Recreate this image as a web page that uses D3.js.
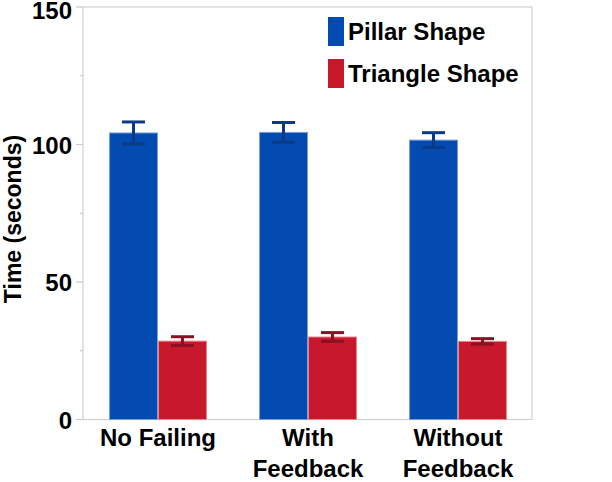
<!DOCTYPE html>
<html>
<head>
<meta charset="utf-8">
<script src="https://cdn.jsdelivr.net/npm/d3@7"></script>
<style>
  html, body { margin: 0; padding: 0; background: #fff; }
  svg { display: block; font-family: "Liberation Sans", Arial, Helvetica, sans-serif; }
</style>
</head>
<body>
<svg id="chart" width="612" height="482"></svg>
<script>
// ---- data ----
const categories = [["No Failing"], ["With", "Feedback"], ["Without", "Feedback"]];
const seriesNames = ["Pillar Shape", "Triangle Shape"];
const pillarValues = [104.2, 104.4, 101.6];
const pillarErrors = [4.0, 3.6, 2.7];
const triangleValues = [28.5, 30.0, 28.4];
const triangleErrors = [1.6, 1.6, 1.0];
const yTicks = [0, 25, 50, 75, 100, 125, 150];
const yLabelTicks = [0, 50, 100, 150];
const yTitle = "Time (seconds)";

const colors = ["#034bb0", "#c8182b"];
const edgeColors = ["#7d9fd8", "#e9858f"];
const errColors = ["#0c3a86", "#8c1022"];

const svg = d3.select("#chart");
const plot = { left: 83, right: 532, top: 7, bottom: 419.5 };

const catIds = categories.map((c, i) => i);
const x = d3.scaleBand().domain(catIds).range([plot.left, plot.right + 1])
  .paddingInner(0.347).paddingOuter(0.1735);
const xs = d3.scaleBand().domain(seriesNames).range([0, x.bandwidth()]);
const y = d3.scaleLinear().domain([0, 150]).range([plot.bottom, plot.top]);

// frame
svg.append("rect")
  .attr("x", plot.left).attr("y", plot.top)
  .attr("width", plot.right - plot.left).attr("height", plot.bottom - plot.top)
  .attr("fill", "none").attr("stroke", "#d0d0d0").attr("stroke-width", 1.2);

// y ticks
const yAxis = svg.append("g");
yAxis.selectAll("line").data(yTicks).join("line")
  .attr("x1", d => yLabelTicks.includes(d) ? plot.left - 7 : plot.left - 3)
  .attr("x2", plot.left)
  .attr("y1", d => y(d)).attr("y2", d => y(d))
  .attr("stroke", "#cccccc").attr("stroke-width", 1.2);
yAxis.selectAll("text").data(yLabelTicks).join("text")
  .attr("x", plot.left - 11)
  .attr("y", d => Math.max(y(d) + 9, 19))
  .attr("text-anchor", "end")
  .attr("font-size", 24).attr("font-weight", "bold").attr("fill", "#000")
  .text(d => d);

// y title
svg.append("text")
  .attr("transform", `translate(21,219) rotate(-90)`)
  .attr("text-anchor", "middle")
  .attr("font-size", 23).attr("font-weight", "bold").attr("fill", "#000")
  .text(yTitle);

// bars
const data = [];
catIds.forEach(i => {
  data.push({ cat: i, s: 0, v: pillarValues[i], e: pillarErrors[i] });
  data.push({ cat: i, s: 1, v: triangleValues[i], e: triangleErrors[i] });
});

const bars = svg.append("g");
bars.selectAll("rect").data(data).join("rect")
  .attr("x", d => x(d.cat) + xs(seriesNames[d.s]) + 0.5)
  .attr("y", d => y(d.v))
  .attr("width", xs.bandwidth() - 1)
  .attr("height", d => y(0) - y(d.v))
  .attr("fill", d => colors[d.s])
  .attr("stroke", d => edgeColors[d.s]).attr("stroke-width", 1);

// error bars
const eb = svg.append("g");
const capW = 23;
data.forEach(d => {
  const cx = x(d.cat) + xs(seriesNames[d.s]) + xs.bandwidth() / 2;
  const g = eb.append("g").attr("stroke", errColors[d.s]).attr("stroke-width", 3);
  g.append("line").attr("x1", cx).attr("x2", cx).attr("y1", y(d.v + d.e)).attr("y2", y(d.v - d.e));
  g.append("line").attr("x1", cx - capW / 2).attr("x2", cx + capW / 2).attr("y1", y(d.v + d.e)).attr("y2", y(d.v + d.e));
  g.append("line").attr("x1", cx - capW / 2).attr("x2", cx + capW / 2).attr("y1", y(d.v - d.e)).attr("y2", y(d.v - d.e));
});

// x category labels
const xl = svg.append("g");
categories.forEach((lines, i) => {
  const t = xl.append("text")
    .attr("x", x(i) + x.bandwidth() / 2).attr("y", 445.5)
    .attr("text-anchor", "middle")
    .attr("font-size", 24).attr("font-weight", "bold").attr("fill", "#000");
  lines.forEach((ln, k) => {
    t.append("tspan").attr("x", x(i) + x.bandwidth() / 2).attr("dy", k === 0 ? 0 : 31).text(ln);
  });
});

// legend
const legend = svg.append("g");
const legY = [17, 59];
seriesNames.forEach((name, i) => {
  legend.append("rect").attr("x", 328).attr("y", legY[i]).attr("width", 16).attr("height", 29)
    .attr("fill", colors[i]);
  legend.append("text").attr("x", 348).attr("y", legY[i] + 23)
    .attr("font-size", 24).attr("font-weight", "bold").attr("fill", "#000")
    .text(name);
});
</script>
</body>
</html>
